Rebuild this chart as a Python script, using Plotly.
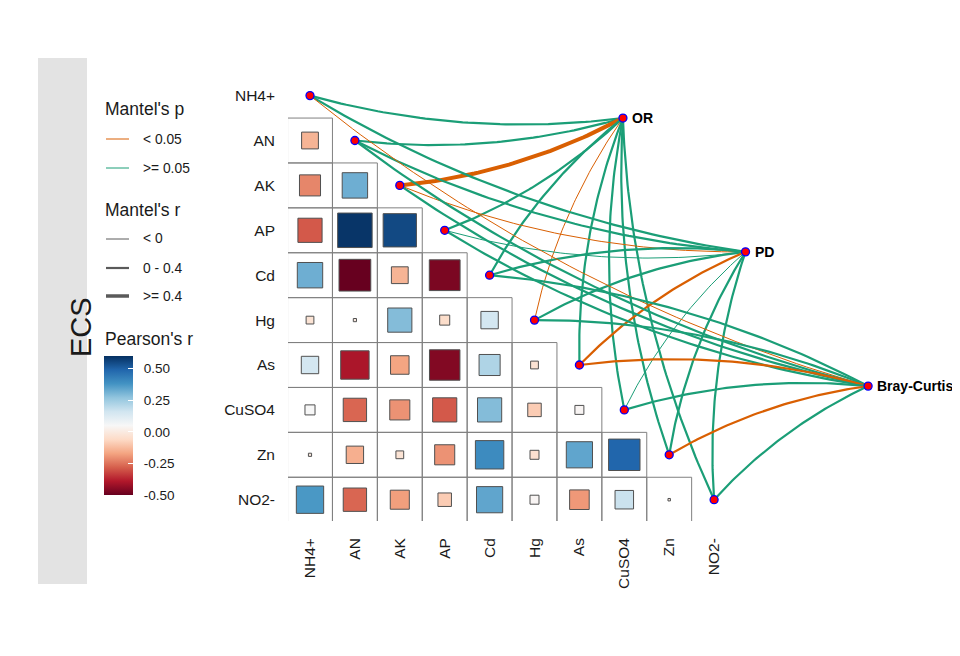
import numpy as np
import plotly.graph_objects as go

# ---------------- data ----------------
variables = ["NH4+", "AN", "AK", "AP", "Cd", "Hg", "As", "CuSO4", "Zn", "NO2-"]

# lower triangle of Pearson's r (row variable vs. earlier column variables)
r_AN = [-0.14]
r_AK = [-0.22, 0.32]
r_AP = [-0.29, 0.59, 0.55]
r_Cd = [0.32, -0.50, -0.14, -0.47]
r_Hg = [-0.03, -0.005, 0.29, -0.05, 0.15]
r_As = [0.15, -0.40, -0.17, -0.46, 0.22, -0.03]
r_CuSO4 = [0.05, -0.27, -0.20, -0.29, 0.29, -0.09, 0.04]
r_Zn = [-0.005, -0.15, -0.03, -0.20, 0.40, -0.04, 0.34, 0.49]
r_NO2 = [0.37, -0.27, -0.18, -0.09, 0.34, 0.04, -0.19, 0.17, 0.003]
pearson_rows = [[], r_AN, r_AK, r_AP, r_Cd, r_Hg, r_As, r_CuSO4, r_Zn, r_NO2]

env_names = ["OR", "PD", "Bray-Curtis"]
# Mantel test results for each environment group vs. each variable
mantel_r_OR = [0.20, 0.15, 0.45, 0.10, 0.12, -0.10, 0.10, 0.20, 0.15, 0.12]
mantel_p_OR = [0.30, 0.40, 0.01, 0.50, 0.30, 0.03, 0.40, 0.20, 0.35, 0.30]
mantel_r_PD = [0.20, 0.15, -0.05, -0.08, 0.10, 0.12, 0.30, -0.06, 0.10, 0.15]
mantel_p_PD = [0.20, 0.30, 0.04, 0.60, 0.30, 0.25, 0.02, 0.70, 0.40, 0.20]
mantel_r_BC = [-0.10, 0.10, 0.10, 0.10, 0.10, 0.10, 0.30, 0.10, 0.25, 0.15]
mantel_p_BC = [0.04, 0.30, 0.30, 0.30, 0.30, 0.30, 0.01, 0.30, 0.03, 0.10]
mantel_r = [mantel_r_OR, mantel_r_PD, mantel_r_BC]
mantel_p = [mantel_p_OR, mantel_p_PD, mantel_p_BC]

colorbar_ticks = [-0.5, -0.25, 0.0, 0.25, 0.5]

# ---------------- layout constants ----------------
OFF = 8                                   # page margin of the html body
W, H = 960 - OFF, 656 - OFF


def P(p):
    """reference-pixel -> figure-pixel"""
    return p - OFF


PL, PR, PT, PB = P(288), W, P(80), P(521)    # plot area in figure pixels
X0, Y0, U = P(310.0), P(95.6), 44.9           # pixel of (0,0) and pixels per unit
xrange_ = [(PL - X0) / U, (PR - X0) / U]
yrange_ = [(PB - Y0) / U, (PT - Y0) / U]

env_x = [6.97, 9.70, 12.43]
env_y = [0.50, 3.48, 6.47]

CMIN, CMAX = -0.50, 0.60
rdbu = ["#67001F", "#B2182B", "#D6604D", "#F4A582", "#FDDBC7", "#F7F7F7",
        "#D1E5F0", "#92C5DE", "#4393C3", "#2166AC", "#053061"]
cscale = [[k / 10, c] for k, c in enumerate(rdbu)]

ORANGE, GREEN = "#D95F02", "#1B9E77"
FONT = "Liberation Sans, Arial, sans-serif"
TXT = "#1a1a1a"


def px_x(p):
    return (P(p) - PL) / (PR - PL)


def px_y(p):
    return (PB - P(p)) / (PB - PT)


def width_of(r):
    if r < 0:
        return 1.0
    if r < 0.4:
        return 2.2
    return 4.0


def arc(p0, p1, curv, sign, n=60):
    p0 = np.asarray(p0, float)
    p1 = np.asarray(p1, float)
    d = p1 - p0
    L = np.hypot(d[0], d[1])
    h = L / 2
    nvec = sign * np.array([-d[1], d[0]]) / L
    s = curv * h
    R = (h * h + s * s) / (2 * s)
    M = (p0 + p1) / 2
    C = M - nvec * (R - s)
    a0 = np.arctan2(p0[1] - C[1], p0[0] - C[0])
    a1 = np.arctan2(p1[1] - C[1], p1[0] - C[0])
    da = (a1 - a0 + np.pi) % (2 * np.pi) - np.pi
    ang = a0 + da * np.linspace(0, 1, n)
    return C[0] + R * np.cos(ang), C[1] + R * np.sin(ang)


fig = go.Figure()
shapes = []
annotations = []

# grid cells of lower triangle
for i in range(len(variables)):
    for j in range(i):
        shapes.append(dict(type="rect", xref="x", yref="y",
                           x0=j - 0.5, x1=j + 0.5, y0=i - 0.5, y1=i + 0.5,
                           line=dict(color="#808080", width=1), fillcolor="rgba(0,0,0,0)",
                           layer="below"))

# squares
sx, sy, sr = [], [], []
for i, row in enumerate(pearson_rows):
    for j, r in enumerate(row):
        sx.append(j)
        sy.append(i)
        sr.append(r)
bar_len = (CMAX - CMIN) / 0.25 * 31.7
NB = "\u00a0\u00a0"
fig.add_trace(go.Scatter(
    x=sx, y=sy, mode="markers", showlegend=False, hoverinfo="skip",
    marker=dict(symbol="square", size=[U * np.sqrt(abs(r)) for r in sr], opacity=1,
                color=sr, colorscale=cscale, cmin=CMIN, cmax=CMAX,
                line=dict(color="#505050", width=1),
                colorbar=dict(thickness=29, len=bar_len, lenmode="pixels",
                              x=px_x(104), xanchor="left", xpad=0,
                              y=px_y(495), yanchor="bottom", ypad=0,
                              outlinewidth=0, tickvals=colorbar_ticks,
                              ticktext=[NB + "%.2f" % v for v in colorbar_ticks],
                              ticks="inside", ticklen=5, tickcolor="white", tickwidth=1,
                              tickfont=dict(size=13.5, color=TXT, family=FONT)))))

# links
env_mid = float(np.mean(env_y))
for e in range(len(env_names)):
    for i in range(len(variables)):
        sign = 1 if i < env_mid else -1
        xs, ys = arc((i, i), (env_x[e], env_y[e]), 0.1, sign)
        col = ORANGE if mantel_p[e][i] < 0.05 else GREEN
        fig.add_trace(go.Scatter(x=xs, y=ys, mode="lines", showlegend=False,
                                 hoverinfo="skip",
                                 line=dict(color=col, width=width_of(mantel_r[e][i]))))

# variable nodes
fig.add_trace(go.Scatter(x=list(range(len(variables))), y=list(range(len(variables))),
                         mode="markers", showlegend=False, hoverinfo="skip", cliponaxis=False,
                         marker=dict(size=8, color="red", line=dict(color="blue", width=1.3))))
# environment nodes
fig.add_trace(go.Scatter(x=env_x, y=env_y, mode="markers", showlegend=False, hoverinfo="skip",
                         cliponaxis=False,
                         marker=dict(size=8, color="red", line=dict(color="blue", width=1.3))))
for e, name in enumerate(env_names):
    annotations.append(dict(x=env_x[e], y=env_y[e], xref="x", yref="y", text="<b>%s</b>" % name,
                            xanchor="left", yanchor="middle", xshift=7, showarrow=False,
                            font=dict(size=14, color="black", family=FONT)))

# ---------- strip ----------
shapes.append(dict(type="rect", xref="paper", yref="paper",
                   x0=px_x(38), x1=px_x(87), y0=px_y(584), y1=px_y(58),
                   fillcolor="#E3E3E3", line=dict(width=0), layer="below"))
annotations.append(dict(x=px_x(63), y=px_y(327), xref="paper", yref="paper",
                        text="ECS", textangle=-90, showarrow=False,
                        font=dict(size=29, color=TXT, family=FONT)))


# ---------- legends ----------
def legend_title(text, ypx):
    annotations.append(dict(x=px_x(103), y=px_y(ypx), xref="paper", yref="paper",
                            xanchor="left", yanchor="middle", text=text, showarrow=False,
                            font=dict(size=17.5, color=TXT, family=FONT)))


def legend_item(text, ypx, color, width):
    shapes.append(dict(type="line", xref="paper", yref="paper",
                       x0=px_x(106), x1=px_x(129),
                       y0=px_y(ypx), y1=px_y(ypx),
                       line=dict(color=color, width=width)))
    annotations.append(dict(x=px_x(141), y=px_y(ypx), xref="paper", yref="paper",
                            xanchor="left", yanchor="middle", text=text, showarrow=False,
                            font=dict(size=13.8, color=TXT, family=FONT)))


legend_title("Mantel's p", 109)
legend_item("&lt; 0.05", 139, ORANGE, 1)
legend_item("&gt;= 0.05", 168, GREEN, 1)
legend_title("Mantel's r", 210)
legend_item("&lt; 0", 239, "#5a5a5a", 1)
legend_item("0 - 0.4", 268, "#5a5a5a", 2.2)
legend_item("&gt;= 0.4", 296, "#5a5a5a", 3.5)
legend_title("Pearson's r", 339)

fig.update_layout(
    width=W, height=H, autosize=False,
    margin=dict(l=PL, r=W - PR, t=PT, b=H - PB, pad=0),
    paper_bgcolor="white", plot_bgcolor="white",
    shapes=shapes, annotations=annotations,
    xaxis=dict(range=xrange_, tickmode="array", tickvals=list(range(len(variables))),
               ticktext=variables, tickangle=-90, showgrid=False, zeroline=False,
               showline=False, ticks="", ticklabelstandoff=13,
               tickfont=dict(size=15.5, color=TXT, family=FONT)),
    yaxis=dict(range=yrange_, tickmode="array", tickvals=list(range(len(variables))),
               ticktext=variables, showgrid=False, zeroline=False, showline=False,
               ticks="", ticklabelstandoff=12,
               tickfont=dict(size=15.5, color=TXT, family=FONT)),
)

fig.write_html("out.html")
